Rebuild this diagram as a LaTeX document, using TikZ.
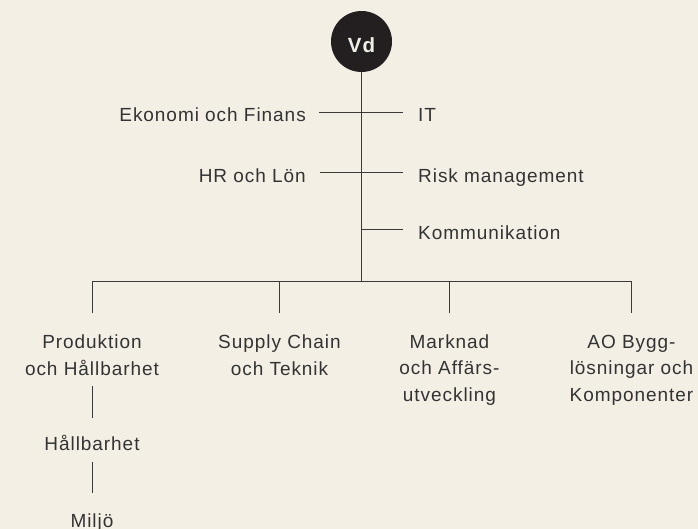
\documentclass[tikz,border=0pt]{standalone}
\usepackage{fontspec}
\setmainfont{Liberation Sans}[LetterSpace=5]
\definecolor{bg}{HTML}{F4EFE5}
\definecolor{ink}{HTML}{333333}
\definecolor{rule}{HTML}{3A3A3A}
\definecolor{dot}{HTML}{231F20}
\definecolor{vdtext}{HTML}{EEF0E6}
\begin{document}
\begin{tikzpicture}[x=1pt,y=-1pt,
  lbl/.style={inner sep=0pt, text=ink, font=\fontsize{19}{26.5}\selectfont},
  box/.style={lbl, align=center, anchor=base},
  conn/.style={draw=rule, line width=1pt}]
\fill[bg] (0,0) rectangle (698,529);
\useasboundingbox (0,0) rectangle (698,529);
% head
\node[circle, fill=dot, minimum size=61pt, inner sep=0pt] (vd) at (361.5,41.5) {};
\node[inner sep=0pt, anchor=base, text=vdtext, font=\fontsize{20.5}{22}\bfseries\selectfont] (vdt) at (361.5,52.5) {Vd};
% staff functions
\node[lbl, anchor=base east] (ek) at (306,122) {Ekonomi och Finans};
\node[lbl, anchor=base west] (it) at (418,122) {IT};
\node[lbl, anchor=base east] (hr) at (306,182.5) {HR och Lön};
\node[lbl, anchor=base west] (risk) at (418,182.5) {Risk management};
\node[lbl, anchor=base west] (kom) at (418,240) {Kommunikation};
% bus
\coordinate (bus) at (361.5,281.5);
\coordinate (b1) at (92,281.5);
\coordinate (b2) at (279.5,281.5);
\coordinate (b3) at (449.5,281.5);
\coordinate (b4) at (631.5,281.5);
% divisions (base = baseline of last line)
\node[box] (prod) at (92,375) {Produktion\\och Hållbarhet};
\node[box] (sup) at (279.5,375) {Supply Chain\\och Teknik};
\node[box] (mark) at (449.5,401) {Marknad\\och Affärs-\\utveckling};
\node[box] (ao) at (631.5,401) {AO Bygg-\\lösningar och\\Komponenter};
\node[box] (hb) at (92,450) {Hållbarhet};
\node[box] (mil) at (92,527) {Miljö};
% connectors
\draw[conn] (vd.south) -- (bus);
\draw[conn] ([xshift=13pt]ek.base east |- 0,113) -- ([xshift=-15pt]it.base west |- 0,113);
\draw[conn] ([xshift=14pt]hr.base east |- 0,173) -- ([xshift=-15pt]risk.base west |- 0,173);
\draw[conn] (bus |- 0,230) -- ([xshift=-15pt]kom.base west |- 0,230);
\draw[conn] (b1) -- (b4);
\draw[conn] (b1) -- (b1 |- 0,313);
\draw[conn] (b2) -- (b2 |- 0,313);
\draw[conn] (b3) -- (b3 |- 0,313);
\draw[conn] (b4) -- (b4 |- 0,313);
\draw[conn] (prod.south |- 0,386) -- (prod.south |- 0,418);
\draw[conn] (hb.south |- 0,462) -- (hb.south |- 0,493);
\end{tikzpicture}
\end{document}
